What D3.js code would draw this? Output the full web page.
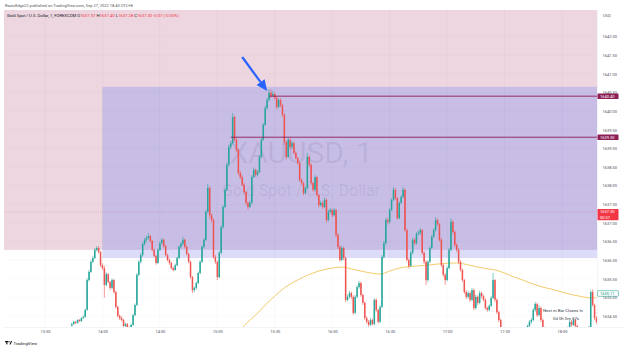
<!DOCTYPE html>
<html>
<head>
<meta charset="utf-8">
<script src="https://cdn.jsdelivr.net/npm/d3@7"></script>
<style>
body { margin: 0; background: #fff; }
svg { display: block; font-family: Roboto, "Noto Sans", sans-serif; }
</style>
</head>
<body>
<script>
// 1 minute bars, XAUUSD, Sep 27 2022. open of each bar = previous close
var firstBar = new Date(2022, 8, 27, 13, 44);
var firstOpen = 1634.25;

var closes = [
    1634.29, 1634.35, 1634.32, 1634.40, 1634.37, 1634.45, 1634.48, 1634.67, 1635.47, 1635.69,
    1635.96, 1636.06, 1636.28, 1636.33, 1636.22, 1635.87, 1635.79, 1635.34, 1635.63, 1635.42,
    1635.26, 1635.47, 1635.15, 1634.75, 1634.51, 1634.45, 1634.40, 1634.24, 1634.29, 1634.19,
    1634.16, 1634.27, 1634.53, 1634.80, 1635.61, 1635.96, 1636.14, 1636.44, 1636.55, 1636.60,
    1636.65, 1636.52, 1636.28, 1636.12, 1635.93, 1636.28, 1636.46, 1636.55, 1636.38, 1636.14,
    1636.01, 1635.93, 1635.79, 1635.74, 1635.87, 1636.06, 1636.36, 1636.44, 1636.55, 1636.36,
    1636.17, 1635.96, 1635.55, 1635.20, 1635.26, 1635.39, 1635.66, 1635.96, 1636.36, 1636.55,
    1637.30, 1637.94, 1637.21, 1637.08, 1636.09, 1635.96, 1635.55, 1636.20, 1636.89, 1637.43,
    1637.89, 1638.56, 1639.04, 1639.14, 1639.84, 1639.23, 1638.96, 1638.34, 1638.23, 1638.02,
    1637.83, 1637.54, 1637.43, 1637.54, 1638.23, 1638.42, 1638.29, 1638.37, 1638.77, 1639.23,
    1639.63, 1640.08, 1640.30, 1640.49, 1640.41, 1640.46, 1640.35, 1640.11, 1640.30, 1640.16,
    1639.90, 1639.17, 1638.77, 1639.23, 1639.04, 1639.14, 1638.88, 1638.74, 1638.61, 1638.15,
    1638.07, 1637.80, 1637.94, 1638.77, 1638.56, 1638.07, 1637.89, 1638.23, 1637.75, 1637.48,
    1637.54, 1637.43, 1637.62, 1637.08, 1637.30, 1637.35, 1637.21, 1637.35, 1636.68, 1636.36,
    1636.01, 1636.33, 1636.06, 1634.94, 1635.02, 1635.12, 1635.02, 1634.59, 1635.02, 1635.28,
    1635.39, 1635.07, 1634.86, 1634.45, 1634.35, 1634.27, 1634.40, 1634.29, 1634.94, 1634.67,
    1634.35, 1634.75, 1636.09, 1636.46, 1637.08, 1637.03, 1637.35, 1637.62, 1637.89, 1637.67,
    1637.13, 1637.54, 1637.70, 1637.89, 1636.81, 1636.01, 1635.85, 1636.20, 1636.55, 1636.46,
    1636.71, 1636.73, 1636.81, 1636.20, 1635.96, 1635.47, 1635.96, 1636.33, 1636.63, 1636.81,
    1637.08, 1636.97, 1636.55, 1635.87, 1635.61, 1635.47, 1635.79, 1636.28, 1637.03, 1636.76,
    1636.41, 1636.28, 1635.96, 1635.74, 1635.47, 1635.15, 1635.02, 1635.12, 1634.94, 1635.20,
    1634.72, 1635.02, 1634.86, 1635.12, 1635.04, 1634.94, 1634.72, 1634.67, 1634.78, 1634.99,
    1635.47, 1634.94, 1634.61, 1634.40, 1634.13, 1633.97, 1633.86, 1633.92, 1633.81, 1633.73,
    1633.78, 1633.68, 1633.76, 1633.86, 1633.81, 1633.92, 1634.00, 1634.05, 1634.24, 1634.35,
    1634.40, 1634.67, 1634.83, 1634.53, 1634.72, 1634.40, 1634.19, 1634.00, 1633.92, 1633.81,
    1633.86, 1633.73, 1633.78, 1633.86, 1633.92, 1633.97, 1633.86, 1633.97, 1634.08, 1634.19,
    1634.35, 1634.27, 1634.40, 1634.24, 1634.08, 1633.97, 1633.92, 1634.00, 1634.05, 1634.13,
    1634.19, 1635.15, 1634.80, 1634.45, 1634.35
];

var highs = [
    1634.33, 1634.38, 1634.37, 1634.42, 1634.43, 1634.47, 1634.52, 1634.70, 1635.52, 1635.74,
    1636.00, 1636.12, 1636.33, 1636.38, 1636.38, 1636.25, 1635.92, 1635.86, 1635.68, 1635.66,
    1635.45, 1635.52, 1635.50, 1635.18, 1634.78, 1634.55, 1634.50, 1634.43, 1634.33, 1634.32,
    1634.23, 1634.30, 1634.57, 1634.84, 1635.66, 1636.00, 1636.20, 1636.48, 1636.60, 1636.66,
    1636.73, 1636.68, 1636.55, 1636.31, 1636.15, 1636.32, 1636.50, 1636.60, 1636.58, 1636.42,
    1636.18, 1636.05, 1635.96, 1635.83, 1635.91, 1636.10, 1636.40, 1636.49, 1636.63, 1636.58,
    1636.39, 1636.20, 1635.99, 1635.58, 1635.30, 1635.43, 1635.70, 1636.00, 1636.40, 1636.60,
    1637.35, 1638.05, 1637.98, 1637.26, 1637.12, 1636.14, 1635.99, 1636.25, 1636.94, 1637.48,
    1637.94, 1638.62, 1639.10, 1639.20, 1639.95, 1639.88, 1639.28, 1639.00, 1638.40, 1638.28,
    1638.08, 1637.86, 1637.58, 1637.60, 1638.28, 1638.48, 1638.46, 1638.42, 1638.82, 1639.28,
    1639.68, 1640.14, 1640.36, 1640.58, 1640.58, 1640.54, 1640.50, 1640.40, 1640.35, 1640.34,
    1640.20, 1639.94, 1639.22, 1639.28, 1639.27, 1639.20, 1639.18, 1638.92, 1638.78, 1638.65,
    1638.20, 1638.10, 1637.98, 1638.88, 1638.82, 1638.60, 1638.10, 1638.28, 1638.26, 1637.78,
    1637.60, 1637.58, 1637.68, 1637.66, 1637.36, 1637.40, 1637.38, 1637.40, 1637.38, 1636.72,
    1636.40, 1636.38, 1636.36, 1636.10, 1635.08, 1635.18, 1635.16, 1635.06, 1635.07, 1635.33,
    1635.45, 1635.43, 1635.10, 1634.90, 1634.50, 1634.40, 1634.45, 1634.44, 1634.98, 1634.98,
    1634.70, 1634.80, 1636.14, 1636.52, 1637.14, 1637.14, 1637.40, 1637.67, 1637.97, 1637.94,
    1637.70, 1637.58, 1637.75, 1637.97, 1637.92, 1636.85, 1636.06, 1636.25, 1636.60, 1636.60,
    1636.76, 1636.80, 1636.86, 1636.84, 1636.24, 1636.00, 1636.00, 1636.38, 1636.68, 1636.86,
    1637.16, 1637.12, 1637.00, 1636.60, 1635.91, 1635.66, 1635.84, 1636.33, 1637.12, 1637.08,
    1636.80, 1636.46, 1636.32, 1636.00, 1635.78, 1635.50, 1635.20, 1635.17, 1635.16, 1635.26,
    1635.24, 1635.08, 1635.06, 1635.18, 1635.16, 1635.08, 1634.98, 1634.76, 1634.82, 1635.04,
    1635.66, 1635.50, 1634.98, 1634.65, 1634.44, 1634.17, 1634.00, 1633.97, 1633.96, 1633.85,
    1633.83, 1633.82, 1633.80, 1633.90, 1633.90, 1633.96, 1634.04, 1634.10, 1634.28, 1634.40,
    1634.46, 1634.72, 1634.88, 1634.86, 1634.80, 1634.76, 1634.44, 1634.22, 1634.04, 1633.96,
    1633.90, 1633.90, 1633.83, 1633.90, 1633.96, 1634.02, 1634.00, 1634.01, 1634.12, 1634.23,
    1634.40, 1634.40, 1634.45, 1634.43, 1634.27, 1634.11, 1634.00, 1634.04, 1634.09, 1634.17,
    1634.24, 1635.20, 1635.22, 1634.84, 1634.50
];

var lows = [
    1634.22, 1634.27, 1634.29, 1634.30, 1634.35, 1634.35, 1634.43, 1634.46, 1634.65, 1635.43,
    1635.66, 1635.92, 1636.03, 1636.24, 1636.18, 1635.82, 1635.74, 1635.00, 1635.30, 1635.38,
    1635.20, 1635.22, 1635.10, 1634.70, 1634.47, 1634.40, 1634.36, 1634.20, 1634.20, 1634.15,
    1634.12, 1634.13, 1634.24, 1634.50, 1634.77, 1635.57, 1635.92, 1636.10, 1636.40, 1636.50,
    1636.56, 1636.48, 1636.24, 1636.08, 1635.88, 1635.90, 1636.25, 1636.42, 1636.34, 1636.10,
    1635.97, 1635.88, 1635.75, 1635.70, 1635.71, 1635.84, 1636.03, 1636.32, 1636.40, 1636.32,
    1636.13, 1635.92, 1635.50, 1635.12, 1635.15, 1635.22, 1635.36, 1635.62, 1635.93, 1636.32,
    1636.52, 1637.26, 1637.12, 1637.02, 1636.04, 1635.90, 1635.47, 1635.52, 1636.16, 1636.85,
    1637.40, 1637.85, 1638.52, 1638.98, 1639.10, 1639.18, 1638.90, 1638.28, 1638.18, 1637.98,
    1637.78, 1637.48, 1637.36, 1637.40, 1637.50, 1638.20, 1638.24, 1638.25, 1638.34, 1638.73,
    1639.20, 1639.60, 1640.04, 1640.26, 1640.36, 1640.38, 1640.30, 1640.05, 1640.08, 1640.10,
    1639.85, 1639.10, 1638.70, 1638.74, 1638.98, 1638.99, 1638.84, 1638.70, 1638.56, 1638.10,
    1638.02, 1637.74, 1637.76, 1637.90, 1638.50, 1638.02, 1637.84, 1637.85, 1637.70, 1637.42,
    1637.44, 1637.38, 1637.40, 1637.02, 1637.04, 1637.26, 1637.16, 1637.18, 1636.62, 1636.30,
    1635.96, 1635.98, 1636.00, 1634.88, 1634.90, 1634.98, 1634.96, 1634.54, 1634.56, 1634.98,
    1635.24, 1635.02, 1634.80, 1634.40, 1634.30, 1634.22, 1634.24, 1634.25, 1634.26, 1634.62,
    1634.30, 1634.32, 1634.72, 1636.05, 1636.42, 1636.96, 1636.98, 1637.32, 1637.58, 1637.62,
    1637.08, 1637.10, 1637.50, 1637.66, 1636.76, 1635.96, 1635.78, 1635.82, 1636.16, 1636.40,
    1636.42, 1636.66, 1636.68, 1636.15, 1635.90, 1635.34, 1635.42, 1635.92, 1636.30, 1636.60,
    1636.77, 1636.92, 1636.50, 1635.82, 1635.56, 1635.34, 1635.44, 1635.76, 1636.24, 1636.70,
    1636.36, 1636.22, 1635.90, 1635.70, 1635.42, 1635.10, 1634.96, 1634.98, 1634.88, 1634.90,
    1634.66, 1634.68, 1634.80, 1634.82, 1634.98, 1634.90, 1634.68, 1634.62, 1634.63, 1634.74,
    1634.96, 1634.88, 1634.56, 1634.34, 1634.08, 1633.92, 1633.80, 1633.82, 1633.76, 1633.68,
    1633.70, 1633.63, 1633.64, 1633.72, 1633.76, 1633.78, 1633.88, 1633.96, 1634.02, 1634.20,
    1634.30, 1634.36, 1634.62, 1634.48, 1634.50, 1634.34, 1634.14, 1633.95, 1633.88, 1633.76,
    1633.77, 1633.68, 1633.70, 1633.74, 1633.82, 1633.88, 1633.82, 1633.83, 1633.94, 1634.04,
    1634.16, 1634.22, 1634.24, 1634.20, 1634.03, 1633.92, 1633.88, 1633.90, 1633.96, 1634.02,
    1634.10, 1634.16, 1634.76, 1634.40, 1634.30
];

// moving average (yellow)
var maTimes = ['15:08', '15:12', '15:16', '15:20', '15:25', '15:30', '15:35', '15:40', '15:45', '15:50',
    '15:55', '16:00', '16:05', '16:10', '16:15', '16:20', '16:25', '16:30', '16:35', '16:40',
    '16:45', '16:50', '16:55', '17:00', '17:05', '17:10', '17:15', '17:20', '17:25', '17:30',
    '17:35', '17:40', '17:45', '17:50', '17:55', '18:00', '18:05', '18:10', '18:15', '18:18'];
var maValues = [1633.86, 1634.13, 1634.35, 1634.53, 1634.80, 1635.04, 1635.26, 1635.42, 1635.55, 1635.66,
    1635.74, 1635.79, 1635.82, 1635.77, 1635.71, 1635.66, 1635.63, 1635.71, 1635.79, 1635.83,
    1635.85, 1635.87, 1635.90, 1635.92, 1635.93, 1635.89, 1635.83, 1635.78, 1635.74, 1635.66,
    1635.55, 1635.46, 1635.36, 1635.28, 1635.22, 1635.15, 1635.08, 1635.03, 1634.99, 1635.00];

var timeTicks = ['13:30', '14:00', '14:30', '15:00', '15:30', '16:00', '16:30', '17:00', '17:30', '18:00'];
var priceTicks = [1634.5, 1635, 1635.5, 1636, 1636.5, 1637, 1637.5, 1638, 1638.5, 1639,
    1639.5, 1640, 1640.5, 1641, 1641.5, 1642];

var levelPrices = [1640.40, 1639.30];
var levelStarts = ['15:27', '15:07'];
var lastPrice = 1637.30;
var maLabel = 1635.11;

var legendKeys = ['O', 'H', 'L', 'C'];
var legendValues = ['1637.37', '1637.40', '1637.28', '1637.30'];

function t(hm) {
    var p = hm.split(':');
    return new Date(2022, 8, 27, +p[0], +p[1]);
}

var width = 625,
    height = 350,
    plotL = 4, plotT = 10, plotR = 597, plotB = 327;

var svg = d3.select('body').append('svg')
    .attr('width', width)
    .attr('height', height);

var x = d3.scaleTime()
    .domain([t('13:30'), t('18:00')])
    .range([45, 562]);
x.domain([x.invert(plotL), x.invert(plotR)]).range([plotL, plotR]);

var y = d3.scaleLinear()
    .domain([1634.5, 1642])
    .range([316.25, 36.5]);

var bars = closes.map(function (c, i) {
    return {
        time: d3.timeMinute.offset(firstBar, i),
        open: i === 0 ? firstOpen : closes[i - 1],
        high: highs[i],
        low: lows[i],
        close: c
    };
});

svg.append('clipPath').attr('id', 'plotclip')
    .append('rect').attr('x', plotL).attr('y', plotT)
    .attr('width', plotR - plotL).attr('height', plotB - plotT);

var plot = svg.append('g').attr('clip-path', 'url(#plotclip)');

// zones
var pinkLow = 1636.28, boxHigh = 1640.65, boxLow = 1636.06;
plot.append('rect')
    .attr('x', plotL).attr('y', plotT)
    .attr('width', plotR - plotL).attr('height', y(pinkLow) - plotT)
    .style('fill', '#edd6e0');
plot.append('rect')
    .attr('x', x(t('14:00'))).attr('y', y(pinkLow))
    .attr('width', plotR - x(t('14:00'))).attr('height', y(boxLow) - y(pinkLow))
    .style('fill', '#dcdcf8');
plot.append('rect')
    .attr('x', x(t('14:00'))).attr('y', y(boxHigh))
    .attr('width', plotR - x(t('14:00'))).attr('height', y(pinkLow) - y(boxHigh))
    .style('fill', '#c7bde5');

// grid
plot.selectAll('.vgrid').data(timeTicks).enter().append('line')
    .attr('x1', function (d) { return x(t(d)); })
    .attr('x2', function (d) { return x(t(d)); })
    .attr('y1', plotT).attr('y2', plotB)
    .style('stroke', 'rgba(42,46,57,0.05)')
    .style('stroke-width', 0.6);
plot.selectAll('.hgrid').data(priceTicks).enter().append('line')
    .attr('x1', plotL).attr('x2', plotR)
    .attr('y1', function (d) { return y(d); })
    .attr('y2', function (d) { return y(d); })
    .style('stroke', 'rgba(42,46,57,0.04)')
    .style('stroke-width', 0.6);

// watermark
plot.append('text')
    .attr('x', 301).attr('y', 163)
    .attr('text-anchor', 'middle')
    .style('font-size', '30px')
    .style('fill', 'rgba(60,50,90,0.09)')
    .text('XAUUSD, 1');
plot.append('text')
    .attr('x', 301).attr('y', 196)
    .attr('text-anchor', 'middle')
    .style('font-size', '16px')
    .style('fill', 'rgba(60,50,90,0.09)')
    .text('Gold Spot / U.S. Dollar');

// last price line
plot.append('line')
    .attr('x1', plotL).attr('x2', plotR)
    .attr('y1', y(lastPrice)).attr('y2', y(lastPrice))
    .style('stroke', 'rgba(190,80,100,0.35)')
    .style('stroke-dasharray', '1,1')
    .style('stroke-width', 0.6);

// moving average
var maLine = d3.line()
    .x(function (d, i) { return x(t(maTimes[i])); })
    .y(function (d) { return y(d); })
    .curve(d3.curveMonotoneX);
plot.append('path')
    .attr('d', maLine(maValues))
    .style('fill', 'none')
    .style('stroke', '#f0c55a')
    .style('stroke-width', 0.9);

// candles
var up = '#26a69a', down = '#ef5350';
var candle = plot.selectAll('.bar').data(bars).enter().append('g');
candle.append('line')
    .attr('x1', function (d) { return x(d.time); })
    .attr('x2', function (d) { return x(d.time); })
    .attr('y1', function (d) { return y(d.high); })
    .attr('y2', function (d) { return y(d.low); })
    .style('stroke', function (d) { return d.close >= d.open ? up : down; })
    .style('stroke-width', 0.6);
candle.append('rect')
    .attr('x', function (d) { return x(d.time) - 0.75; })
    .attr('width', 1.5)
    .attr('y', function (d) { return y(Math.max(d.open, d.close)); })
    .attr('height', function (d) { return Math.max(0.6, Math.abs(y(d.open) - y(d.close))); })
    .style('fill', function (d) { return d.close >= d.open ? up : down; });

// horizontal levels
plot.selectAll('.level').data(levelPrices).enter().append('line')
    .attr('x1', function (d, i) { return x(t(levelStarts[i])); })
    .attr('x2', plotR)
    .attr('y1', function (d) { return y(d); })
    .attr('y2', function (d) { return y(d); })
    .style('stroke', '#8c1d55')
    .style('stroke-width', 0.9);

// arrow
var tail = [x(t('15:13')), y(1641.45)],
    tip = [x(t('15:26')), y(1640.54)];
var dx = tip[0] - tail[0], dy = tip[1] - tail[1], len = Math.sqrt(dx * dx + dy * dy);
var ux = dx / len, uy = dy / len, hl = 11, hw = 5;
var base = [tip[0] - ux * hl, tip[1] - uy * hl];
plot.append('line')
    .attr('x1', tail[0]).attr('y1', tail[1])
    .attr('x2', base[0]).attr('y2', base[1])
    .style('stroke', '#2962ff').style('stroke-width', 2.2);
plot.append('path')
    .attr('d', 'M' + tip + 'L' + [base[0] - uy * hw, base[1] + ux * hw] + 'L' + [base[0] + uy * hw, base[1] - ux * hw] + 'Z')
    .style('fill', '#2962ff');

// countdown indicator text
plot.append('text').attr('x', 543).attr('y', 311.5)
    .style('font-size', '4.3px').style('fill', '#3a3e49')
    .text('Next m Bar Closes In');
plot.append('text').attr('x', 553).attr('y', 319.5)
    .style('font-size', '4.3px').style('fill', '#3a3e49')
    .text('0d 0h 0m 57s');

// borders
svg.append('line').attr('x1', plotL).attr('x2', width).attr('y1', plotB + 0.5).attr('y2', plotB + 0.5)
    .style('stroke', '#e6e8ee').style('stroke-width', 0.5);
svg.append('line').attr('x1', plotR + 0.5).attr('x2', plotR + 0.5).attr('y1', plotT).attr('y2', plotB)
    .style('stroke', '#e6e8ee').style('stroke-width', 0.5);

// axes
var xAxis = svg.append('g')
    .attr('transform', 'translate(0,' + plotB + ')')
    .call(d3.axisBottom(x)
        .tickValues(timeTicks.map(t))
        .tickFormat(d3.timeFormat('%H:%M'))
        .tickSize(0).tickPadding(3));
xAxis.select('.domain').remove();
xAxis.selectAll('text').style('font-size', '4px').style('fill', '#50535e').style('font-family', 'Roboto, sans-serif');

var yAxis = svg.append('g')
    .attr('transform', 'translate(' + plotR + ',0)')
    .call(d3.axisRight(y)
        .tickValues(priceTicks)
        .tickFormat(d3.format('.2f'))
        .tickSize(0).tickPadding(5.5));
yAxis.select('.domain').remove();
yAxis.selectAll('text').style('font-size', '4px').style('fill', '#50535e').style('font-family', 'Roboto, sans-serif');

svg.append('text').attr('x', 603).attr('y', 16.5)
    .style('font-size', '4px').style('fill', '#50535e').text('USD');

// price axis labels
function priceLabel(price, fill, stroke, color, lines) {
    var h = lines.length * 5.6;
    var g = svg.append('g');
    g.append('rect')
        .attr('x', plotR + 0.5).attr('y', y(price) - 2.8)
        .attr('width', 21).attr('height', h)
        .style('fill', fill)
        .style('stroke', stroke || 'none').style('stroke-width', 0.5)
        .attr('rx', 0.6);
    lines.forEach(function (s, i) {
        g.append('text')
            .attr('x', plotR + 3).attr('y', y(price) + 1.4 + i * 5.6)
            .style('font-size', '4px').style('fill', color)
            .text(s);
    });
}
levelPrices.forEach(function (p) {
    priceLabel(p, '#8c1d55', null, '#fff', [d3.format('.2f')(p)]);
});
priceLabel(lastPrice, '#f23645', null, '#fff', [d3.format('.2f')(lastPrice), '00:57']);
priceLabel(maLabel, '#fff', '#089981', '#089981', [d3.format('.2f')(maLabel)]);

// header + legend
svg.append('text').attr('x', 5).attr('y', 6.5)
    .style('font-size', '4px').style('fill', '#555')
    .text('RazorEdge22 published on TradingView.com, Sep 27, 2022 18:43 UTC+8');

var legend = svg.append('text').attr('x', 7).attr('y', 16.5)
    .style('font-size', '4.2px').style('fill', '#131722');
legend.append('tspan').text('Gold Spot / U.S. Dollar, 1, FOREXCOM ');
legendKeys.forEach(function (k, i) {
    legend.append('tspan').text(' ' + k).style('fill', '#131722');
    legend.append('tspan').text(legendValues[i]).style('fill', '#f23645');
});
legend.append('tspan').text(' -0.07 (-0.00%)').style('fill', '#f23645');

// TradingView footer
var logo = svg.append('g').attr('transform', 'translate(5,341)');
logo.append('rect').attr('x', 0).attr('y', 0).attr('width', 3).attr('height', 1.2).style('fill', '#131722');
logo.append('rect').attr('x', 1.2).attr('y', 0).attr('width', 1.2).attr('height', 3.4).style('fill', '#131722');
logo.append('circle').attr('cx', 4).attr('cy', 0.8).attr('r', 0.7).style('fill', '#131722');
logo.append('path').attr('d', 'M4.4,3.4L6,0L7.2,0L5.6,3.4Z').style('fill', '#131722');
svg.append('text').attr('x', 13.5).attr('y', 344.5)
    .style('font-size', '4.3px').style('fill', '#131722')
    .text('TradingView');
</script>
</body>
</html>
